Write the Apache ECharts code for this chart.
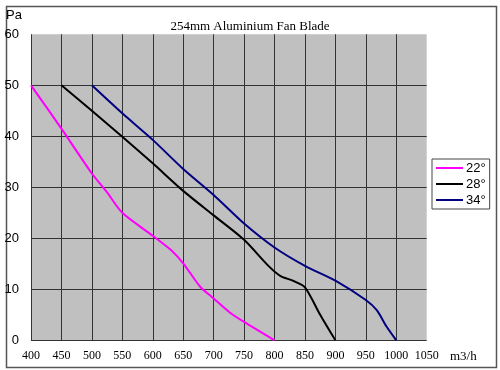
<!DOCTYPE html>
<html>
<head>
<meta charset="utf-8">
<script src="https://cdn.jsdelivr.net/npm/echarts@6/dist/echarts.min.js"></script>
<style>html,body{margin:0;padding:0;background:#fff;}#c{width:500px;height:370px;}</style>
</head>
<body>
<div id="c"></div>
<script>
var titleText = '254mm Aluminium Fan Blade';
var xTicks = [400, 450, 500, 550, 600, 650, 700, 750, 800, 850, 900, 950, 1000, 1050];
var yTicks = [0, 10, 20, 30, 40, 50, 60];
var seriesNames = ['22°', '28°', '34°'];
var seriesColors = ['#ff00ff', '#000000', '#000080'];

var flow22 = [400, 450, 500, 525, 550, 600, 630, 650, 678, 700, 727, 750, 800];
var pres22 = [50, 41.5, 32.7, 29.0, 25.0, 20.5, 17.7, 15.1, 10.5, 8.2, 5.4, 3.6, 0];

var flow28 = [450, 500, 550, 600, 650, 700, 750, 790, 810, 830, 850, 875, 900];
var pres28 = [50, 45, 39.9, 34.7, 29.3, 24.5, 19.7, 14.6, 12.6, 11.7, 10.4, 5.0, 0];

var flow34 = [500, 550, 600, 650, 700, 750, 800, 850, 900, 950, 968, 984, 1000];
var pres34 = [50, 44.5, 39.3, 33.6, 28.5, 22.9, 18.2, 14.6, 11.7, 7.9, 5.9, 2.7, 0];

function pairs(xs, ys) { return xs.map(function (x, i) { return [x, ys[i]]; }); }
var allData = [pairs(flow22, pres22), pairs(flow28, pres28), pairs(flow34, pres34)];

var chart = echarts.init(document.getElementById('c'), null, {renderer: 'canvas'});
var gridLine = {show: true, lineStyle: {color: '#333', width: 1}, showMaxLine: false};
chart.setOption({
  animation: false,
  backgroundColor: '#fff',
  title: {
    text: titleText, left: 'center', top: 15,
    textStyle: {fontFamily: 'Liberation Serif', fontSize: 13, fontWeight: 'normal', color: '#000'}
  },
  graphic: [
    {type: 'rect', left: 4, top: 4, shape: {width: 490, height: 361},
     style: {fill: 'none', stroke: '#555', lineWidth: 1.5}, silent: true},
    {type: 'text', left: 6, top: 9, style: {text: 'Pa', fontFamily: 'Liberation Sans', fontSize: 13, fill: '#000'}},
    {type: 'text', left: 450, top: 350, style: {text: 'm3/h', fontFamily: 'Liberation Serif', fontSize: 13, fill: '#000'}}
  ],
  legend: {
    orient: 'vertical', left: 432, top: 159,
    padding: [1, 4, 1, 4], itemGap: 0,
    itemWidth: 27, itemHeight: 2, icon: 'rect',
    backgroundColor: '#fff', borderColor: '#444', borderWidth: 1,
    textStyle: {fontFamily: 'Liberation Sans', fontSize: 13, color: '#000', lineHeight: 16, padding: [0, 0, 0, -2]},
    data: seriesNames
  },
  grid: {left: 31, top: 34.3, right: 73.3, bottom: 29.7, show: true, backgroundColor: '#c0c0c0', borderWidth: 0},
  xAxis: {
    type: 'value', min: xTicks[0], max: xTicks[xTicks.length - 1], interval: 50,
    axisLine: {show: false}, axisTick: {show: false},
    axisLabel: {margin: 10, fontFamily: 'Liberation Serif', fontSize: 12, color: '#000', showMaxLabel: true, showMinLabel: true,
      formatter: function (v) { return String(v); }},
    splitLine: gridLine
  },
  yAxis: {
    type: 'value', min: yTicks[0], max: yTicks[yTicks.length - 1], interval: 10,
    axisLine: {show: false}, axisTick: {show: false},
    axisLabel: {margin: 12, fontFamily: 'Liberation Sans', fontSize: 13, color: '#000'},
    splitLine: gridLine
  },
  series: seriesNames.map(function (n, i) {
    return {
      name: n, type: 'line', data: allData[i], smooth: 0.25, symbol: 'none',
      lineStyle: {color: seriesColors[i], width: 2}, itemStyle: {color: seriesColors[i]}
    };
  })
});
</script>
</body>
</html>
